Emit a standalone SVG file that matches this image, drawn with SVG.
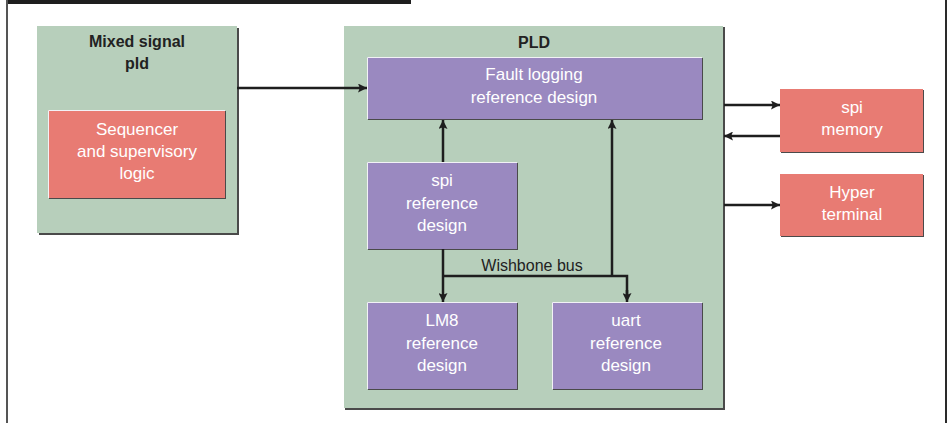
<svg xmlns="http://www.w3.org/2000/svg" width="950" height="423" viewBox="0 0 950 423">
  <defs>
    <marker id="arrow" viewBox="0 0 10 10" refX="10" refY="5" markerWidth="9" markerHeight="9" markerUnits="userSpaceOnUse" orient="auto">
      <path d="M0,0 L10,5 L0,10 L2,5 Z" fill="#1e1e1e"/>
    </marker>
    <style>
      .frame { fill: none; stroke: #3a3a3a; stroke-width: 2; }
      .shadow { fill: #4a4a4a; }
      .green { fill: #b7cfbb; }
      .purple { fill: #9a89c0; }
      .red { fill: #e87b73; }
      .hl { fill: none; stroke: #f2f2f6; stroke-width: 1; }
      .wire { fill: none; stroke: #1e1e1e; stroke-width: 2.5; }
      .head { fill: none; stroke: #1e1e1e; stroke-width: 2.5; marker-end: url(#arrow); }
      .title { font-family: "Liberation Sans", Arial, sans-serif; font-weight: bold; font-size: 16px; fill: #222; text-anchor: middle; }
      .label { font-family: "Liberation Sans", Arial, sans-serif; font-size: 17px; fill: #ffffff; text-anchor: middle; }
      .bus { font-family: "Liberation Sans", Arial, sans-serif; font-size: 16px; fill: #222; text-anchor: middle; }
    </style>
  </defs>

  <rect width="950" height="423" fill="#ffffff"/>

  <!-- page frame -->
  <g id="frame">
    <rect x="7" y="0" width="404" height="4" fill="#1e1e1e"/>
    <line x1="7" y1="0" x2="7" y2="423" stroke="#555" stroke-width="2"/>
    <line x1="946" y1="0" x2="946" y2="423" stroke="#2a2a2a" stroke-width="2"/>
  </g>

  <!-- Mixed signal pld container -->
  <g id="mixed-signal-pld">
    <rect class="shadow" x="39" y="28" width="200" height="207"/>
    <rect class="green" x="37" y="26" width="200" height="207"/>
    <text class="title" x="137" y="47">Mixed signal</text>
    <text class="title" x="137" y="69">pld</text>
  </g>

  <g id="sequencer">
    <rect class="shadow" x="49" y="111" width="177" height="88"/>
    <rect class="red" x="48" y="110" width="177" height="88"/>
    <polyline class="hl" points="48.5,198 48.5,110.5 225,110.5"/>
    <text class="label" x="137" y="135">Sequencer</text>
    <text class="label" x="137" y="157">and supervisory</text>
    <text class="label" x="137" y="179">logic</text>
  </g>

  <!-- PLD container -->
  <g id="pld">
    <rect class="shadow" x="345" y="27" width="380" height="383"/>
    <rect class="green" x="344" y="26" width="379" height="382"/>
    <text class="title" x="534" y="48">PLD</text>
  </g>

  <g id="fault-logging">
    <rect class="shadow" x="368" y="58" width="335" height="62"/>
    <rect class="purple" x="367" y="57" width="335" height="62"/>
    <polyline class="hl" points="367.5,119 367.5,57.5 702,57.5"/>
    <text class="label" x="534" y="80">Fault logging</text>
    <text class="label" x="534" y="103">reference design</text>
  </g>

  <g id="spi-ref">
    <rect class="shadow" x="368" y="163" width="150" height="87"/>
    <rect class="purple" x="367" y="162" width="150" height="87"/>
    <polyline class="hl" points="367.5,249 367.5,162.5 517,162.5"/>
    <text class="label" x="442" y="186">spi</text>
    <text class="label" x="442" y="209">reference</text>
    <text class="label" x="442" y="231">design</text>
  </g>

  <g id="lm8-ref">
    <rect class="shadow" x="368" y="303" width="150" height="87"/>
    <rect class="purple" x="367" y="302" width="150" height="87"/>
    <polyline class="hl" points="367.5,389 367.5,302.5 517,302.5"/>
    <text class="label" x="442" y="326">LM8</text>
    <text class="label" x="442" y="349">reference</text>
    <text class="label" x="442" y="371">design</text>
  </g>

  <g id="uart-ref">
    <rect class="shadow" x="553" y="303" width="150" height="87"/>
    <rect class="purple" x="552" y="302" width="150" height="87"/>
    <polyline class="hl" points="552.5,389 552.5,302.5 702,302.5"/>
    <text class="label" x="626" y="326">uart</text>
    <text class="label" x="626" y="349">reference</text>
    <text class="label" x="626" y="371">design</text>
  </g>

  <g id="spi-memory">
    <rect class="shadow" x="781" y="90" width="143" height="63"/>
    <rect class="red" x="780" y="89" width="143" height="63"/>
    <text class="label" x="852" y="113">spi</text>
    <text class="label" x="852" y="135">memory</text>
  </g>

  <g id="hyper-terminal">
    <rect class="shadow" x="781" y="175" width="143" height="62"/>
    <rect class="red" x="780" y="174" width="143" height="62"/>
    <text class="label" x="852" y="198">Hyper</text>
    <text class="label" x="852" y="220">terminal</text>
  </g>

  <!-- connectors -->
  <g id="connectors">
    <line class="head" x1="237" y1="88" x2="367" y2="88"/>
    <line class="head" x1="443" y1="162" x2="443" y2="120"/>
    <line class="head" x1="612" y1="276" x2="612" y2="120"/>
    <line class="head" x1="443" y1="249" x2="443" y2="302"/>
    <polyline class="wire" points="443,276 627,276 627,294"/>
    <line class="head" x1="627" y1="290" x2="627" y2="302"/>
    <line class="head" x1="724" y1="105" x2="780" y2="105"/>
    <line class="head" x1="780" y1="136" x2="724" y2="136"/>
    <line class="head" x1="724" y1="205" x2="780" y2="205"/>
    <text class="bus" x="532" y="271">Wishbone bus</text>
  </g>
</svg>
